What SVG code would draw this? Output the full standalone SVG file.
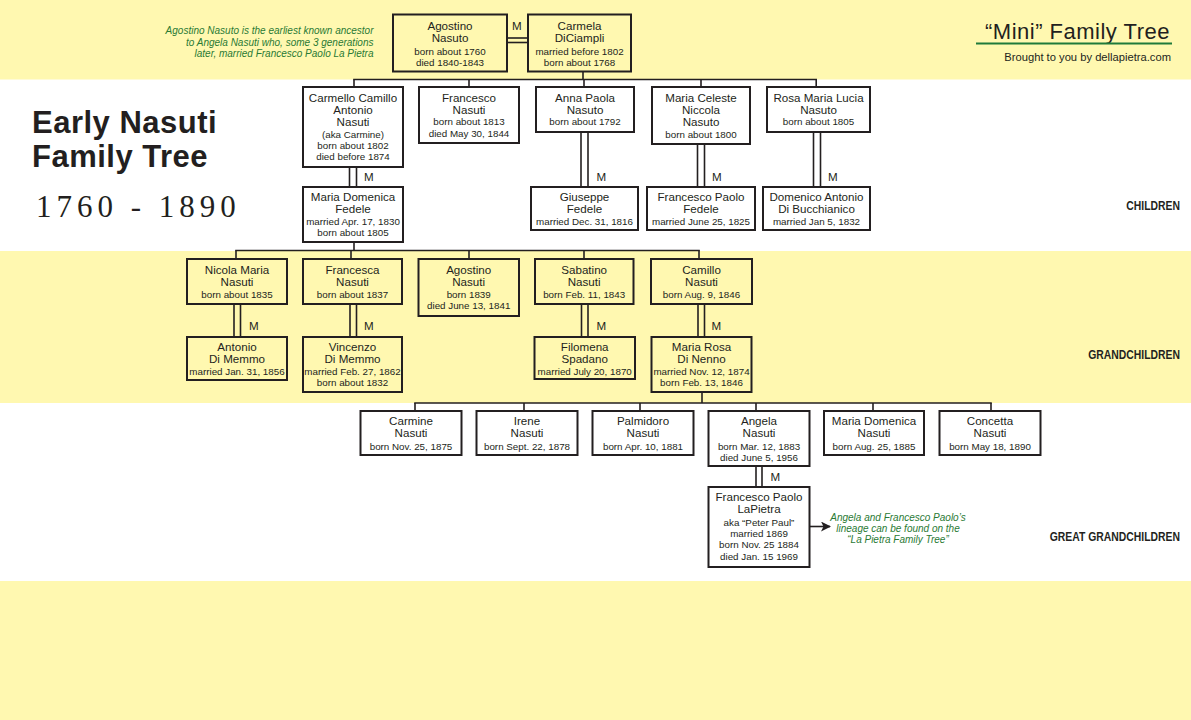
<svg xmlns="http://www.w3.org/2000/svg" width="1191" height="720" viewBox="0 0 1191 720">
<style>
text{font-family:"Liberation Sans",Arial,sans-serif;fill:#231f20}
.n{font-size:11.6px;text-anchor:middle}
.d{font-size:9.8px;text-anchor:middle}
.m{font-size:11.6px}
.box{fill:none;stroke:#231f20;stroke-width:2}
.c{fill:none;stroke:#231f20;stroke-width:1.6}
.note{font-size:10px;font-style:italic;fill:#2a7a34}
.row{font-size:13px;font-weight:bold;text-anchor:end}
.big{font-size:31px;font-weight:bold;letter-spacing:0.5px}
</style>
<defs>
<marker id="arr" viewBox="0 0 10 10" refX="9" refY="5" markerWidth="10" markerHeight="10" markerUnits="userSpaceOnUse" orient="auto">
<path d="M0,0 L10,5 L0,10 L2.5,5 Z" fill="#231f20"/>
</marker>
</defs>
<rect width="1191" height="720" fill="#ffffff"/>
<rect x="0" y="0" width="1191" height="79.5" fill="#fff8b0"/>
<rect x="0" y="251" width="1191" height="152" fill="#fff8b0"/>
<rect x="0" y="581" width="1191" height="139" fill="#fff8b0"/>

<g id="title">
<text class="big" x="32" y="132.5">Early Nasuti</text>
<text class="big" x="32" y="166.5">Family Tree</text>
<text x="36" y="216.5" style="font-family:'Liberation Serif',serif;font-size:31px;letter-spacing:5px">1760 - 1890</text>
</g>
<g id="brand">
<text x="1170" y="38.5" style="font-size:22px;letter-spacing:0.5px;text-anchor:end">“Mini” Family Tree</text>
<line x1="976" y1="43.5" x2="1172" y2="43.5" stroke="#1f7a3a" stroke-width="2"/>
<text x="1171" y="61" style="font-size:11.2px;text-anchor:end">Brought to you by dellapietra.com</text>
</g>
<g id="note-top">
<text class="note" x="373.5" y="34" text-anchor="end">Agostino Nasuto is the earliest known ancestor</text>
<text class="note" x="373.5" y="45.5" text-anchor="end">to Angela Nasuti who, some 3 generations</text>
<text class="note" x="373.5" y="56.5" text-anchor="end">later, married Francesco Paolo La Pietra</text>
</g>
<g id="row-labels">
<text class="row" transform="translate(1180 209.5) scale(0.8 1)">CHILDREN</text>
<text class="row" transform="translate(1180 358.5) scale(0.8 1)">GRANDCHILDREN</text>
<text class="row" transform="translate(1180 540.5) scale(0.8 1)">GREAT GRANDCHILDREN</text>
</g>

<g id="connectors">
<line class="c" x1="507" y1="38" x2="528" y2="38"/>
<line class="c" x1="507" y1="42.5" x2="528" y2="42.5"/>
<text class="m" x="512" y="30">M</text>
<line class="c" x1="583" y1="71.5" x2="583" y2="79.5"/>
<line class="c" x1="353.2" y1="79.5" x2="817" y2="79.5"/>
<line class="c" x1="354" y1="79.5" x2="354" y2="87"/>
<line class="c" x1="469" y1="79.5" x2="469" y2="87"/>
<line class="c" x1="584" y1="79.5" x2="584" y2="87"/>
<line class="c" x1="701" y1="79.5" x2="701" y2="87"/>
<line class="c" x1="816.2" y1="79.5" x2="816.2" y2="87"/>
<line class="c" x1="349.5" y1="167" x2="349.5" y2="187"/>
<line class="c" x1="356.5" y1="167" x2="356.5" y2="187"/>
<text class="m" x="364" y="181">M</text>
<line class="c" x1="581" y1="132" x2="581" y2="187"/>
<line class="c" x1="588" y1="132" x2="588" y2="187"/>
<text class="m" x="596.5" y="181">M</text>
<line class="c" x1="697.5" y1="144" x2="697.5" y2="187"/>
<line class="c" x1="704.5" y1="144" x2="704.5" y2="187"/>
<text class="m" x="712" y="181">M</text>
<line class="c" x1="813.5" y1="132" x2="813.5" y2="187"/>
<line class="c" x1="820.5" y1="132" x2="820.5" y2="187"/>
<text class="m" x="828" y="181">M</text>
<line class="c" x1="354" y1="242" x2="354" y2="250.5"/>
<line class="c" x1="235.2" y1="250.5" x2="699.8" y2="250.5"/>
<line class="c" x1="236" y1="250.5" x2="236" y2="259"/>
<line class="c" x1="351" y1="250.5" x2="351" y2="259"/>
<line class="c" x1="469" y1="250.5" x2="469" y2="259"/>
<line class="c" x1="584" y1="250.5" x2="584" y2="259"/>
<line class="c" x1="699" y1="250.5" x2="699" y2="259"/>
<line class="c" x1="234" y1="304" x2="234" y2="337"/>
<line class="c" x1="240.5" y1="304" x2="240.5" y2="337"/>
<text class="m" x="249" y="330">M</text>
<line class="c" x1="350" y1="304" x2="350" y2="337"/>
<line class="c" x1="356.5" y1="304" x2="356.5" y2="337"/>
<text class="m" x="364" y="330">M</text>
<line class="c" x1="581.5" y1="304" x2="581.5" y2="337"/>
<line class="c" x1="588" y1="304" x2="588" y2="337"/>
<text class="m" x="596.5" y="330">M</text>
<line class="c" x1="698" y1="304" x2="698" y2="337"/>
<line class="c" x1="704.5" y1="304" x2="704.5" y2="337"/>
<text class="m" x="711.5" y="330">M</text>
<line class="c" x1="702" y1="392" x2="702" y2="403"/>
<line class="c" x1="414.2" y1="403" x2="991.8" y2="403"/>
<line class="c" x1="415" y1="403" x2="415" y2="411"/>
<line class="c" x1="524" y1="403" x2="524" y2="411"/>
<line class="c" x1="640" y1="403" x2="640" y2="411"/>
<line class="c" x1="756" y1="403" x2="756" y2="411"/>
<line class="c" x1="873" y1="403" x2="873" y2="411"/>
<line class="c" x1="991" y1="403" x2="991" y2="411"/>
<line class="c" x1="756" y1="466" x2="756" y2="487"/>
<line class="c" x1="762" y1="466" x2="762" y2="487"/>
<text class="m" x="770.5" y="480.5">M</text>
<line class="c" x1="809.5" y1="526.5" x2="830" y2="526.5" marker-end="url(#arr)"/>
</g>

<g id="note-right">
<text class="note" x="898" y="520.5" text-anchor="middle">Angela and Francesco Paolo’s</text>
<text class="note" x="898" y="531.5" text-anchor="middle">lineage can be found on the</text>
<text class="note" x="898" y="542.5" text-anchor="middle">“La Pietra Family Tree”</text>
</g>

<g id="n-agostino-nasuto">
<rect class="box" x="393" y="14.5" width="114" height="57"/>
<text class="n" x="450" y="30">Agostino</text>
<text class="n" x="450" y="42">Nasuto</text>
<text class="d" x="450" y="54.5">born about 1760</text>
<text class="d" x="450" y="65.5">died 1840-1843</text>
</g>
<g id="n-carmela-diciampli">
<rect class="box" x="528" y="14.5" width="103" height="57"/>
<text class="n" x="579.5" y="30">Carmela</text>
<text class="n" x="579.5" y="42">DiCiampli</text>
<text class="d" x="579.5" y="54.5">married before 1802</text>
<text class="d" x="579.5" y="65.5">born about 1768</text>
</g>

<g id="n-carmello">
<rect class="box" x="303" y="87" width="100" height="80"/>
<text class="n" x="353" y="102">Carmello Camillo</text>
<text class="n" x="353" y="114">Antonio</text>
<text class="n" x="353" y="126">Nasuti</text>
<text class="d" x="353" y="137.5">(aka Carmine)</text>
<text class="d" x="353" y="148.8">born about 1802</text>
<text class="d" x="353" y="160.1">died before 1874</text>
</g>
<g id="n-francesco-nasuti">
<rect class="box" x="419" y="87" width="100" height="56"/>
<text class="n" x="469" y="102">Francesco</text>
<text class="n" x="469" y="114">Nasuti</text>
<text class="d" x="469" y="125.3">born about 1813</text>
<text class="d" x="469" y="136.6">died May 30, 1844</text>
</g>
<g id="n-anna-paola">
<rect class="box" x="536" y="87" width="98" height="45"/>
<text class="n" x="585" y="102">Anna Paola</text>
<text class="n" x="585" y="114">Nasuto</text>
<text class="d" x="585" y="125.3">born about 1792</text>
</g>
<g id="n-maria-celeste">
<rect class="box" x="652" y="87" width="98" height="57"/>
<text class="n" x="701" y="102">Maria Celeste</text>
<text class="n" x="701" y="114">Niccola</text>
<text class="n" x="701" y="126">Nasuto</text>
<text class="d" x="701" y="137.5">born about 1800</text>
</g>
<g id="n-rosa-maria">
<rect class="box" x="767" y="87" width="103" height="45"/>
<text class="n" x="818.5" y="102">Rosa Maria Lucia</text>
<text class="n" x="818.5" y="114">Nasuto</text>
<text class="d" x="818.5" y="125.3">born about 1805</text>
</g>

<g id="n-maria-domenica-fedele">
<rect class="box" x="303" y="187" width="100" height="55"/>
<text class="n" x="353" y="201">Maria Domenica</text>
<text class="n" x="353" y="213">Fedele</text>
<text class="d" x="353" y="225">married Apr. 17, 1830</text>
<text class="d" x="353" y="236.3">born about 1805</text>
</g>
<g id="n-giuseppe-fedele">
<rect class="box" x="531" y="187" width="107" height="43"/>
<text class="n" x="584.5" y="201">Giuseppe</text>
<text class="n" x="584.5" y="213">Fedele</text>
<text class="d" x="584.5" y="225">married Dec. 31, 1816</text>
</g>
<g id="n-francesco-paolo-fedele">
<rect class="box" x="647" y="187" width="108" height="43"/>
<text class="n" x="701" y="201">Francesco Paolo</text>
<text class="n" x="701" y="213">Fedele</text>
<text class="d" x="701" y="225">married June 25, 1825</text>
</g>
<g id="n-domenico-antonio">
<rect class="box" x="763" y="187" width="107" height="43"/>
<text class="n" x="816.5" y="201">Domenico Antonio</text>
<text class="n" x="816.5" y="213">Di Bucchianico</text>
<text class="d" x="816.5" y="225">married Jan 5, 1832</text>
</g>

<g id="n-nicola-maria">
<rect class="box" x="187" y="259" width="100" height="45"/>
<text class="n" x="237" y="274">Nicola Maria</text>
<text class="n" x="237" y="286">Nasuti</text>
<text class="d" x="237" y="297.5">born about 1835</text>
</g>
<g id="n-francesca">
<rect class="box" x="303" y="259" width="99" height="45"/>
<text class="n" x="352.5" y="274">Francesca</text>
<text class="n" x="352.5" y="286">Nasuti</text>
<text class="d" x="352.5" y="297.5">born about 1837</text>
</g>
<g id="n-agostino-nasuti">
<rect class="box" x="418.5" y="259" width="100.5" height="57"/>
<text class="n" x="468.7" y="274">Agostino</text>
<text class="n" x="468.7" y="286">Nasuti</text>
<text class="d" x="468.7" y="297.5">born 1839</text>
<text class="d" x="468.7" y="308.8">died June 13, 1841</text>
</g>
<g id="n-sabatino">
<rect class="box" x="535" y="259" width="98.5" height="45"/>
<text class="n" x="584.2" y="274">Sabatino</text>
<text class="n" x="584.2" y="286">Nasuti</text>
<text class="d" x="584.2" y="297.5">born Feb. 11, 1843</text>
</g>
<g id="n-camillo">
<rect class="box" x="651" y="259" width="101" height="45"/>
<text class="n" x="701.5" y="274">Camillo</text>
<text class="n" x="701.5" y="286">Nasuti</text>
<text class="d" x="701.5" y="297.5">born Aug. 9, 1846</text>
</g>

<g id="n-antonio-di-memmo">
<rect class="box" x="187" y="337" width="100" height="43"/>
<text class="n" x="237" y="351">Antonio</text>
<text class="n" x="237" y="363">Di Memmo</text>
<text class="d" x="237" y="374.5">married Jan. 31, 1856</text>
</g>
<g id="n-vincenzo-di-memmo">
<rect class="box" x="303" y="337" width="99" height="55"/>
<text class="n" x="352.5" y="351">Vincenzo</text>
<text class="n" x="352.5" y="363">Di Memmo</text>
<text class="d" x="352.5" y="374.5">married Feb. 27, 1862</text>
<text class="d" x="352.5" y="385.8">born about 1832</text>
</g>
<g id="n-filomena-spadano">
<rect class="box" x="534.5" y="337" width="100.5" height="42"/>
<text class="n" x="584.7" y="351">Filomena</text>
<text class="n" x="584.7" y="363">Spadano</text>
<text class="d" x="584.7" y="374.5">married July 20, 1870</text>
</g>
<g id="n-maria-rosa-di-nenno">
<rect class="box" x="651.5" y="337" width="100" height="55"/>
<text class="n" x="701.5" y="351">Maria Rosa</text>
<text class="n" x="701.5" y="363">Di Nenno</text>
<text class="d" x="701.5" y="374.5">married Nov. 12, 1874</text>
<text class="d" x="701.5" y="385.8">born Feb. 13, 1846</text>
</g>

<g id="n-carmine">
<rect class="box" x="360.5" y="411" width="101" height="44"/>
<text class="n" x="411" y="425">Carmine</text>
<text class="n" x="411" y="436.7">Nasuti</text>
<text class="d" x="411" y="449.5">born Nov. 25, 1875</text>
</g>
<g id="n-irene">
<rect class="box" x="476.5" y="411" width="101" height="44"/>
<text class="n" x="527" y="425">Irene</text>
<text class="n" x="527" y="436.7">Nasuti</text>
<text class="d" x="527" y="449.5">born Sept. 22, 1878</text>
</g>
<g id="n-palmidoro">
<rect class="box" x="592.5" y="411" width="101" height="44"/>
<text class="n" x="643" y="425">Palmidoro</text>
<text class="n" x="643" y="436.7">Nasuti</text>
<text class="d" x="643" y="449.5">born Apr. 10, 1881</text>
</g>
<g id="n-angela">
<rect class="box" x="708.5" y="411" width="101" height="55"/>
<text class="n" x="759" y="425">Angela</text>
<text class="n" x="759" y="436.7">Nasuti</text>
<text class="d" x="759" y="449.5">born Mar. 12, 1883</text>
<text class="d" x="759" y="461">died June 5, 1956</text>
</g>
<g id="n-maria-domenica-nasuti">
<rect class="box" x="824" y="411" width="100" height="44"/>
<text class="n" x="874" y="425">Maria Domenica</text>
<text class="n" x="874" y="436.7">Nasuti</text>
<text class="d" x="874" y="449.5">born Aug. 25, 1885</text>
</g>
<g id="n-concetta">
<rect class="box" x="939.5" y="411" width="101" height="44"/>
<text class="n" x="990" y="425">Concetta</text>
<text class="n" x="990" y="436.7">Nasuti</text>
<text class="d" x="990" y="449.5">born May 18, 1890</text>
</g>
<g id="n-francesco-paolo-lapietra">
<rect class="box" x="708.5" y="487" width="101" height="80"/>
<text class="n" x="759" y="501">Francesco Paolo</text>
<text class="n" x="759" y="513">LaPietra</text>
<text class="d" x="759" y="525.5">aka “Peter Paul”</text>
<text class="d" x="759" y="536.5">married 1869</text>
<text class="d" x="759" y="548">born Nov. 25 1884</text>
<text class="d" x="759" y="559.5">died Jan. 15 1969</text>
</g>
</svg>
